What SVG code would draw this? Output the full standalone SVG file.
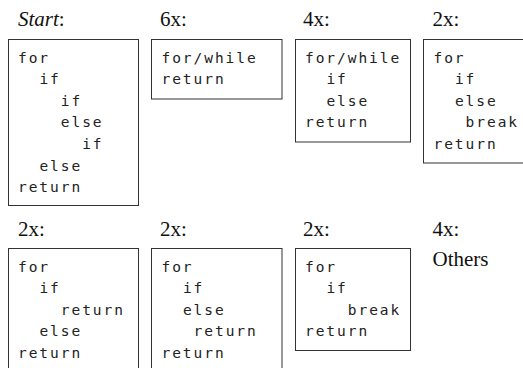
<svg xmlns="http://www.w3.org/2000/svg" width="523" height="368" viewBox="0 0 523 368">
  <style>
    .bg { fill: #ffffff; }
    .box { fill: #ffffff; stroke: #333333; stroke-width: 1; }
    .lbl { font-family: "Liberation Serif", serif; font-size: 21px; fill: #111111; }
    .it { font-style: italic; }
    .code { font-family: "DejaVu Sans Mono", monospace; font-size: 14.5px; letter-spacing: 1.95px; fill: #222222; }
  </style>
  <rect class="bg" x="0" y="0" width="523" height="368"/>

  <!-- top row -->
  <g id="start">
    <text class="lbl it" x="18" y="26">Start<tspan font-style="normal">:</tspan></text>
    <rect class="box" x="8.5" y="39.5" width="130" height="166"/>
    <text class="code" x="18" y="62.5">for</text>
    <text class="code" x="39.4" y="84.1">if</text>
    <text class="code" x="60.8" y="105.7">if</text>
    <text class="code" x="60.8" y="127.3">else</text>
    <text class="code" x="82.2" y="148.9">if</text>
    <text class="code" x="39.4" y="170.5">else</text>
    <text class="code" x="18" y="192.1">return</text>
  </g>

  <g id="p6x">
    <text class="lbl" x="160" y="26">6x:</text>
    <rect class="box" x="151.5" y="39.5" width="130.5" height="59.5"/>
    <text class="code" x="161.5" y="62.5">for/while</text>
    <text class="code" x="161.5" y="84.1">return</text>
  </g>

  <g id="p4x">
    <text class="lbl" x="303" y="26">4x:</text>
    <rect class="box" x="295.5" y="39.5" width="115" height="102.5"/>
    <text class="code" x="305" y="62.5">for/while</text>
    <text class="code" x="326.4" y="84.1">if</text>
    <text class="code" x="326.4" y="105.7">else</text>
    <text class="code" x="305" y="127.3">return</text>
  </g>

  <g id="p2x-a">
    <text class="lbl" x="432.5" y="26">2x:</text>
    <rect class="box" x="423.5" y="39.5" width="110" height="123.5"/>
    <text class="code" x="433.5" y="62.5">for</text>
    <text class="code" x="454.9" y="84.1">if</text>
    <text class="code" x="454.9" y="105.7">else</text>
    <text class="code" x="465.6" y="127.3">break</text>
    <text class="code" x="433.5" y="148.9">return</text>
  </g>

  <!-- bottom row -->
  <g id="p2x-b">
    <text class="lbl" x="18" y="236">2x:</text>
    <rect class="box" x="8.5" y="248.5" width="130" height="130"/>
    <text class="code" x="18" y="271.5">for</text>
    <text class="code" x="39.4" y="293.1">if</text>
    <text class="code" x="60.8" y="314.7">return</text>
    <text class="code" x="39.4" y="336.3">else</text>
    <text class="code" x="18" y="357.9">return</text>
  </g>

  <g id="p2x-c">
    <text class="lbl" x="160" y="236">2x:</text>
    <rect class="box" x="151.5" y="248.5" width="130.5" height="130"/>
    <text class="code" x="161.5" y="271.5">for</text>
    <text class="code" x="182.9" y="293.1">if</text>
    <text class="code" x="182.9" y="314.7">else</text>
    <text class="code" x="193.6" y="336.3">return</text>
    <text class="code" x="161.5" y="357.9">return</text>
  </g>

  <g id="p2x-d">
    <text class="lbl" x="303" y="236">2x:</text>
    <rect class="box" x="295.5" y="248.5" width="115" height="102"/>
    <text class="code" x="305" y="271.5">for</text>
    <text class="code" x="326.4" y="293.1">if</text>
    <text class="code" x="347.8" y="314.7">break</text>
    <text class="code" x="305" y="336.3">return</text>
  </g>

  <g id="others">
    <text class="lbl" x="432.5" y="236">4x:</text>
    <text class="lbl" x="432.5" y="265.5" font-size="23">Others</text>
  </g>
</svg>
